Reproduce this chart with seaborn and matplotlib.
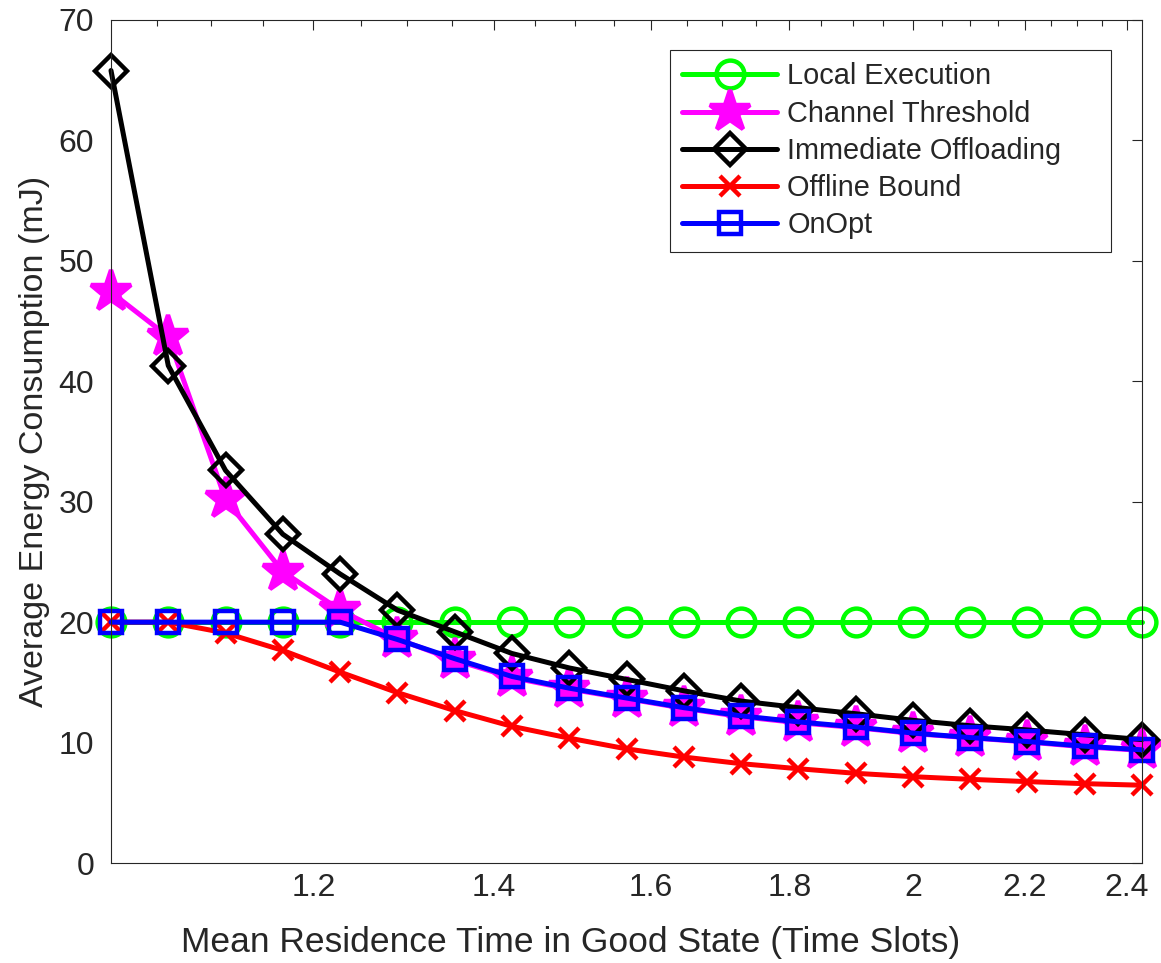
import numpy as np
import pandas as pd
import seaborn as sns
import matplotlib
matplotlib.use('Agg')
import matplotlib.pyplot as plt
from matplotlib.ticker import FixedLocator, NullFormatter

# mean residence time in good state (time slots), log-spaced
x_slots = [1.010, 1.0605, 1.1135, 1.1692, 1.2277, 1.2891, 1.3535, 1.4212, 1.4922, 1.5669,
           1.6452, 1.7275, 1.8139, 1.9045, 1.9998, 2.0997, 2.2047, 2.3150, 2.4307]

local_exec = [20, 20, 20, 20, 20, 20, 20, 20, 20, 20, 20, 20, 20, 20, 20, 20, 20, 20, 20]
channel_thr = [47.4, 43.7, 30.2, 24.2, 21.0, 18.6, 16.85, 15.4, 14.45, 13.65, 12.85, 12.15,
               11.65, 11.25, 10.75, 10.4, 10.05, 9.65, 9.35]
immediate = [65.8, 41.3, 32.6, 27.3, 24.0, 21.0, 19.2, 17.4, 16.2, 15.25, 14.3, 13.45,
             12.9, 12.4, 11.85, 11.4, 11.05, 10.65, 10.25]
offline = [20.0, 20.0, 19.1, 17.65, 15.85, 14.15, 12.66, 11.35, 10.37, 9.48, 8.8, 8.25,
           7.83, 7.45, 7.17, 6.95, 6.76, 6.59, 6.46]
onopt = [20, 20, 20, 20, 20, 18.56, 16.97, 15.49, 14.52, 13.7, 12.9, 12.22,
         11.72, 11.3, 10.79, 10.42, 10.09, 9.7, 9.4]

names = ['Local Execution', 'Channel Threshold', 'Immediate Offloading', 'Offline Bound', 'OnOpt']
series = [local_exec, channel_thr, immediate, offline, onopt]
colors = ['#00ff00', '#ff00ff', '#000000', '#ff0000', '#0000ff']
markers = ['o', '*', 'D', 'x', 's']
msizes = [20, 31, 16, 14, 16]
filled = [False, True, False, False, False]

major_x = [1.2, 1.4, 1.6, 1.8, 2.0, 2.2, 2.4]
major_lbl = ['1.2', '1.4', '1.6', '1.8', '2', '2.2', '2.4']
minor_x = [1.05, 1.1, 1.15, 1.25, 1.3, 1.35, 1.45, 1.5, 1.55, 1.65, 1.7, 1.75,
           1.85, 1.9, 1.95, 2.05, 2.1, 2.15, 2.25, 2.3, 2.35]
y_ticks = [0, 10, 20, 30, 40, 50, 60, 70]

sns.set_style('white')
plt.rcParams['font.family'] = ['Liberation Sans', 'DejaVu Sans']
axcol = '#262626'

fig = plt.figure(figsize=(11.61, 9.63), dpi=100)
ax = fig.add_axes([0.0956, 0.1038, 0.8880, 0.8755])

for name, vals, c, m, ms, f in zip(names, series, colors, markers, msizes, filled):
    df = pd.DataFrame({'x': x_slots, 'y': vals})
    sns.lineplot(data=df, x='x', y='y', ax=ax, color=c, lw=3.6, marker=m,
                 markersize=ms, markeredgewidth=3.2, markeredgecolor=c,
                 markerfacecolor=(c if f else 'none'), label=name, clip_on=False)

ax.set_xscale('log')
ax.set_xlim(x_slots[0], x_slots[-1])
ax.set_ylim(0, 70)
ax.xaxis.set_major_locator(FixedLocator(major_x))
ax.xaxis.set_minor_locator(FixedLocator(minor_x))
ax.set_xticklabels(major_lbl)
ax.xaxis.set_minor_formatter(NullFormatter())
ax.set_yticks(y_ticks)

ax.tick_params(axis='both', which='major', direction='in', length=7, width=0.8,
               colors=axcol, labelsize=23, top=True, right=True, pad=7)
ax.tick_params(axis='y', pad=12)
ax.tick_params(axis='x', which='minor', direction='in', length=4, width=0.8,
               colors=axcol, top=True)
for s in ax.spines.values():
    s.set_color(axcol)
    s.set_linewidth(0.8)

ax.set_xlabel('Mean Residence Time in Good State (Time Slots)', fontsize=25.5,
              color=axcol, labelpad=18)
ax.xaxis.set_label_coords(0.446, -0.075)
ax.set_ylabel('Average Energy Consumption (mJ)', fontsize=24.5, color=axcol, labelpad=6)

leg = ax.legend(loc='upper left', bbox_to_anchor=(0.542, 0.5, 0.4277, 0.464), mode='expand',
                borderaxespad=0, fontsize=20.8, handlelength=3.3, handletextpad=0.35,
                labelspacing=0.32, borderpad=0.42, fancybox=False, framealpha=1,
                edgecolor=axcol)
leg.get_frame().set_linewidth(0.8)

fig.savefig('out.png', dpi=100)
